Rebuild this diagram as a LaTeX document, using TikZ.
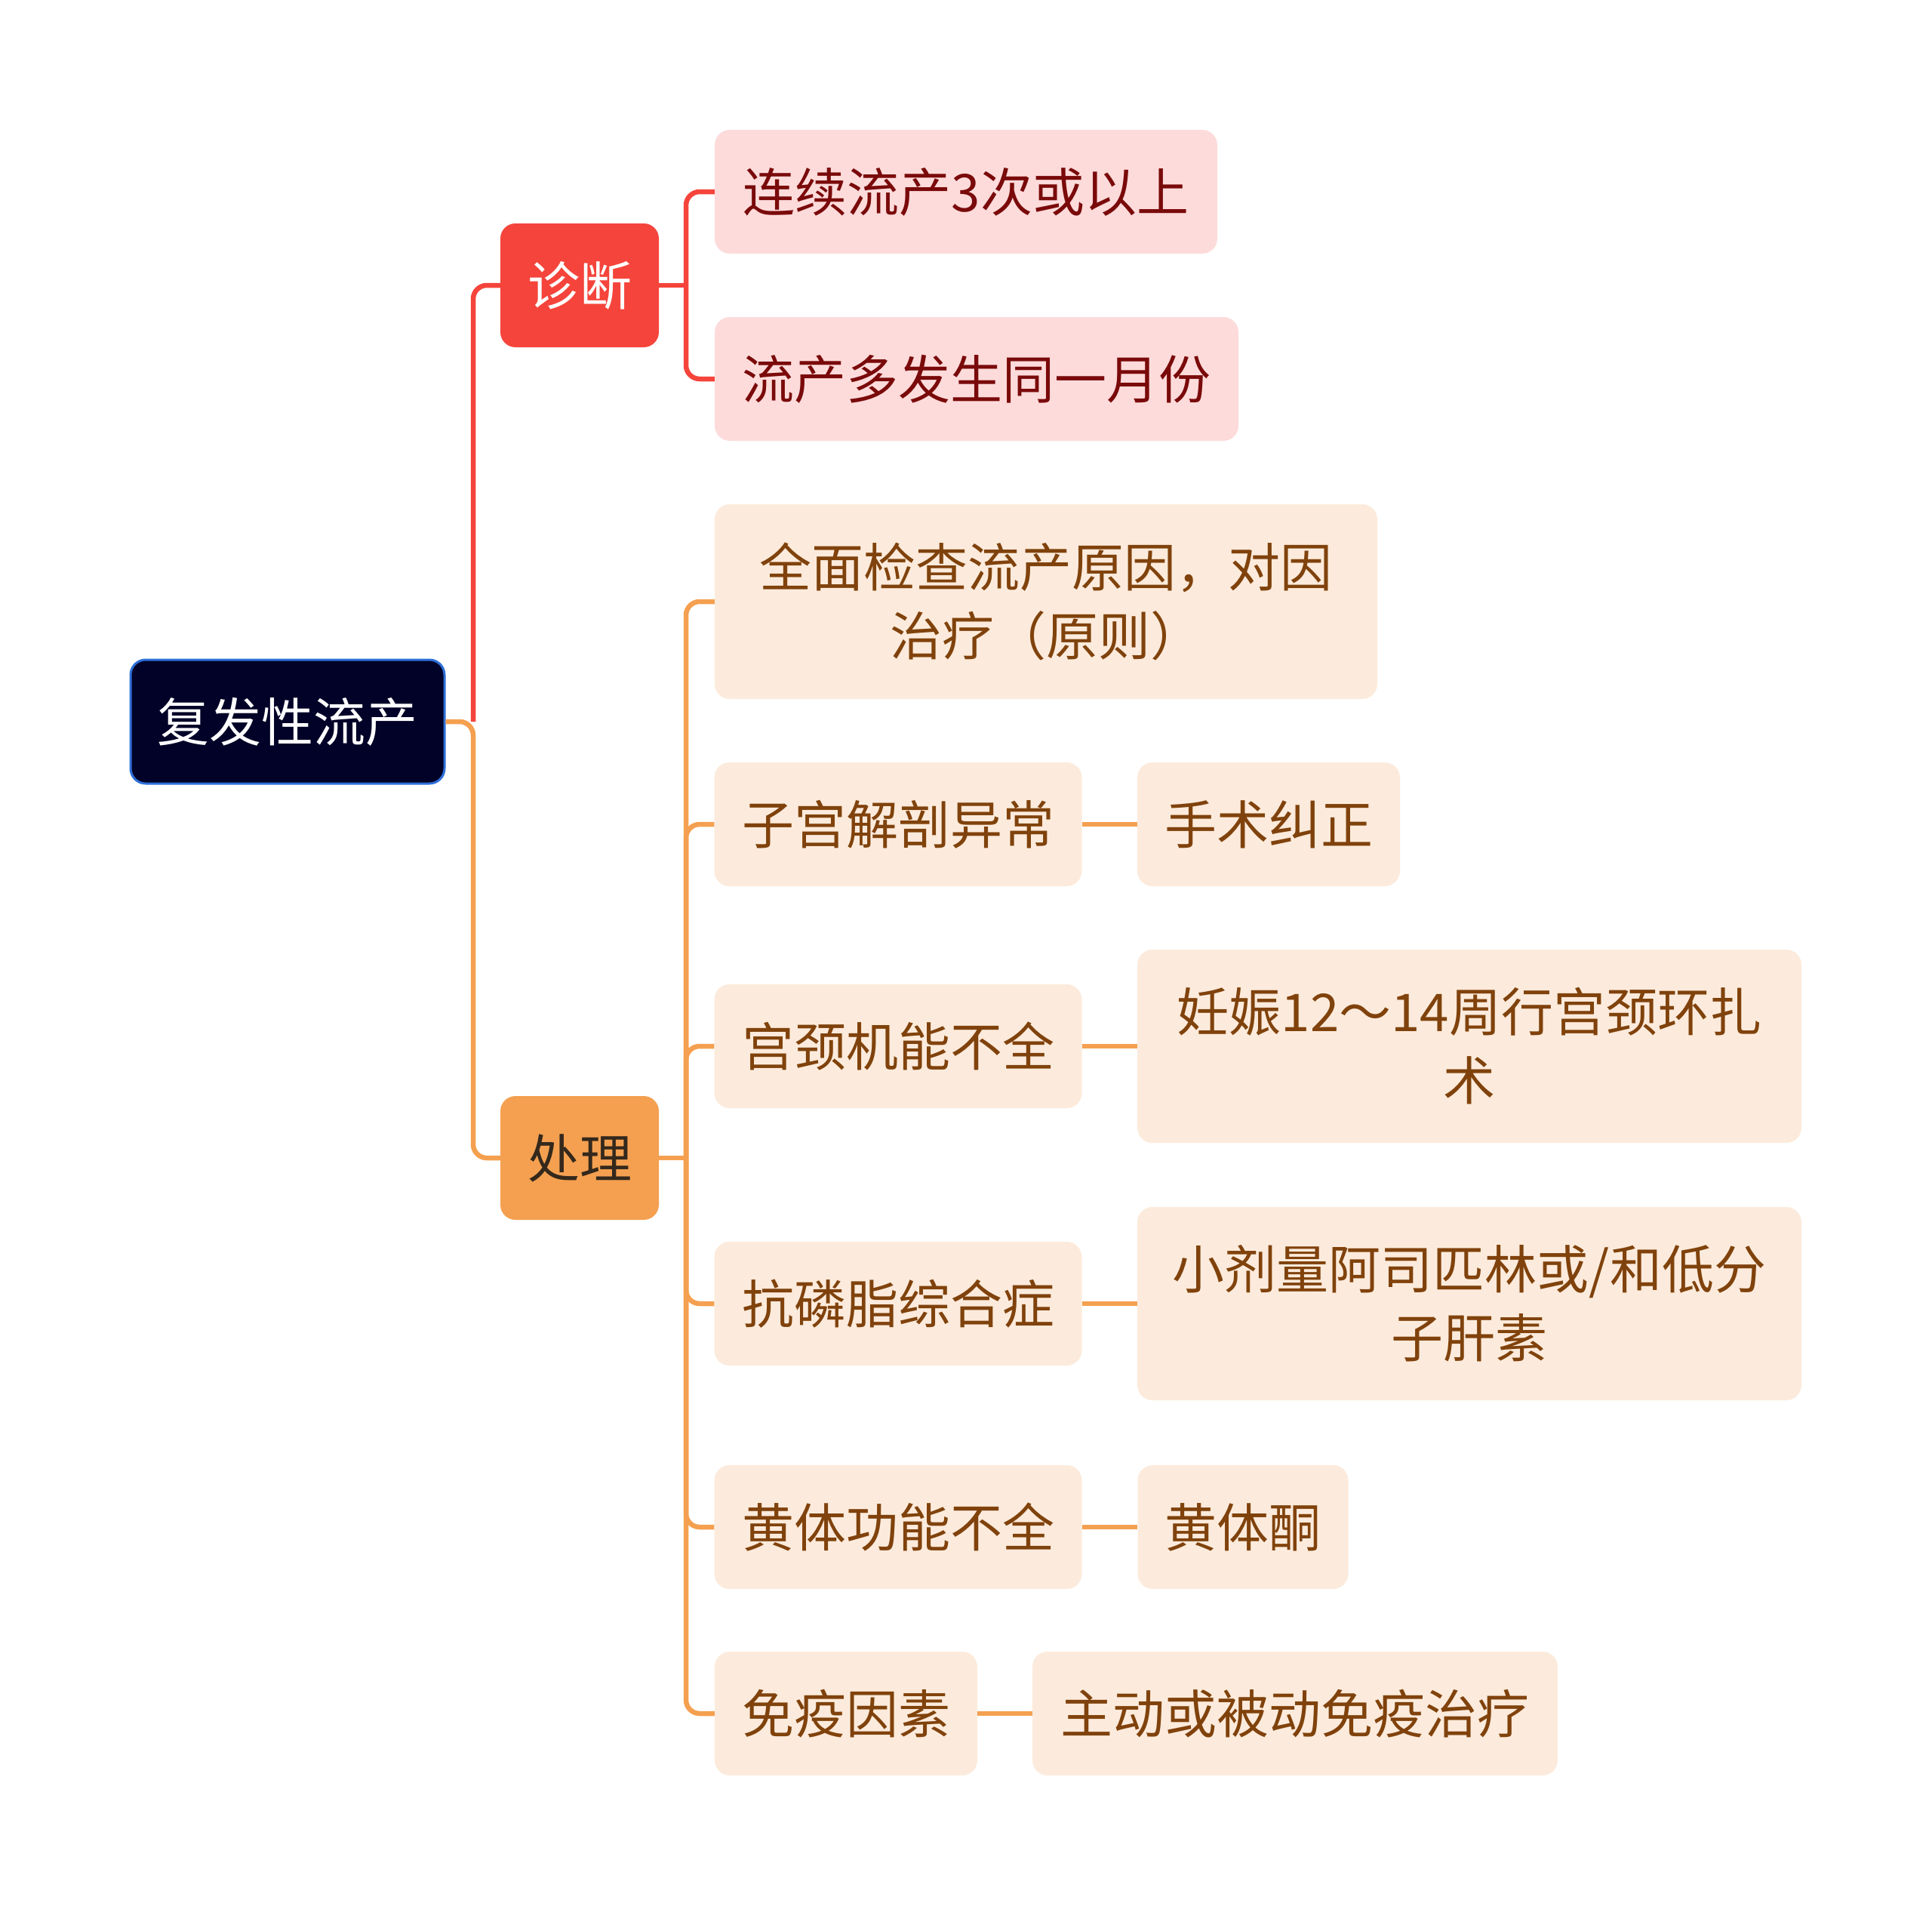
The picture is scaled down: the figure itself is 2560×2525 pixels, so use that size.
\documentclass[tikz,border=0pt]{standalone}
\usepackage{fontspec}
\setmainfont{Noto Sans CJK SC}
\definecolor{rootfill}{RGB}{2,2,40}
\definecolor{rootborder}{RGB}{47,111,216}
\definecolor{redmain}{RGB}{245,68,59}
\definecolor{orangemain}{RGB}{244,160,80}
\definecolor{pinkfill}{RGB}{253,219,219}
\definecolor{pinktext}{RGB}{122,10,10}
\definecolor{creamfill}{RGB}{252,235,220}
\definecolor{browntext}{RGB}{128,66,12}
\definecolor{darktext}{RGB}{52,40,28}
\begin{document}
\begin{tikzpicture}[x=1pt,y=-1pt,
  box/.style={rounded corners=20pt, inner sep=0pt, align=center,
    font=\fontsize{69}{91}\selectfont, minimum height=164pt},
  rootbox/.style={box, fill=rootfill, draw=rootborder, line width=3pt, text=white},
  diagbox/.style={box, fill=redmain, text=white},
  treatbox/.style={box, fill=orangemain, text=darktext},
  pinkbox/.style={box, fill=pinkfill, text=pinktext},
  creambox/.style={box, fill=creamfill, text=browntext},
  redline/.style={draw=redmain, line width=6.5pt, rounded corners=18pt},
  orangeline/.style={draw=orangemain, line width=6.5pt, rounded corners=18pt}
]
\useasboundingbox (0,0) rectangle (2560,2525);
\fill[white] (0,0) rectangle (2560,2525);

% nodes
\node[rootbox, minimum width=416pt] (root) at (381,956) {复发性流产};
\node[diagbox, minimum width=210pt] (diag) at (768,378) {诊断};
\node[treatbox, minimum width=210pt] (treat) at (768,1534) {处理};

\node[pinkbox, minimum width=666pt] (d1) at (1280,254) {连续流产3次或以上};
\node[pinkbox, minimum width=694pt] (d2) at (1294,502) {流产多发生同一月份};

\node[creambox, minimum width=878pt, minimum height=258pt] (t1) at (1386,797) {全面检查流产原因，对因\\治疗（原则）};
\node[creambox, minimum width=487pt] (t2) at (1190,1092) {子宫解剖异常};
\node[creambox, minimum width=348pt] (t2a) at (1681,1092) {手术纠正};
\node[creambox, minimum width=487pt] (t3) at (1190,1386) {宫颈机能不全};
\node[creambox, minimum width=880pt, minimum height=256pt] (t3a) at (1947,1386) {妊娠12～14周行宫颈环扎\\术};
\node[creambox, minimum width=487pt] (t4) at (1190,1727) {抗磷脂综合症};
\node[creambox, minimum width=880pt, minimum height=256pt] (t4a) at (1947,1727) {小剂量阿司匹林或/和低分\\子肝素};
\node[creambox, minimum width=487pt] (t5) at (1190,2023) {黄体功能不全};
\node[creambox, minimum width=279pt] (t5a) at (1647,2023) {黄体酮};
\node[creambox, minimum width=348pt] (t6) at (1121,2270) {免疫因素};
\node[creambox, minimum width=696pt] (t6a) at (1716,2270) {主动或被动免疫治疗};

% junctions
\coordinate (j1) at (627,956);
\coordinate (j2) at (909,378);
\coordinate (j3) at (909,1534);

% connectors
\draw[redline] (j1) |- (diag.west);
\draw[orangeline] (root.east) -- (j1) |- (treat.west);

\draw[redline] (diag.east) -- (j2);
\draw[redline] (j2) |- (d1.west);
\draw[redline] (j2) |- (d2.west);

\draw[orangeline] (treat.east) -- (j3);
\foreach \c in {t1,t2,t3,t4,t5,t6} {
  \draw[orangeline] (j3) |- (\c.west);
}
\foreach \a/\b in {t2/t2a,t3/t3a,t4/t4a,t5/t5a,t6/t6a} {
  \draw[orangeline] (\a.east) -- (\a.east -| \b.west);
}
\end{tikzpicture}
\end{document}
